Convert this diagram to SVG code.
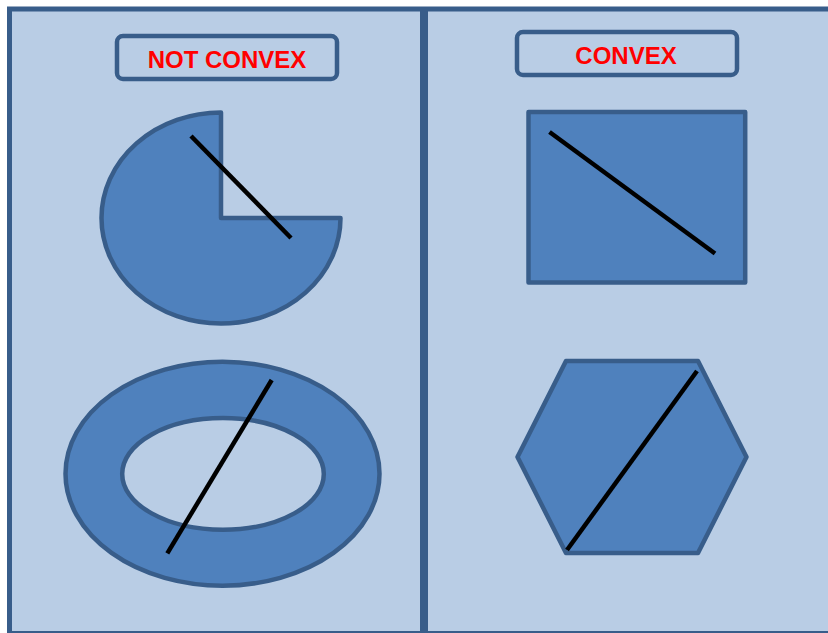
<svg xmlns="http://www.w3.org/2000/svg" width="828" height="633" viewBox="0 0 828 633">
  <style>
    .panel { fill: #b9cde5; stroke: #385d8a; stroke-width: 5; }
    .shape { fill: #4f81bd; stroke: #385d8a; stroke-width: 4.5; stroke-linejoin: round; }
    .label-box { fill: #b9cde5; stroke: #385d8a; stroke-width: 4.5; }
    .label { font-family: "Liberation Sans", Arial, sans-serif; font-weight: bold; font-size: 24px; fill: #ff0000; text-anchor: middle; }
    .chord { stroke: #000000; stroke-width: 4.5; stroke-linecap: butt; fill: none; }
  </style>
  <rect x="0" y="0" width="828" height="633" fill="#ffffff"/>

  <!-- two panels -->
  <g id="panels">
    <rect class="panel" x="9.5" y="9" width="830" height="624.5"/>
    <line x1="424" y1="9" x2="424" y2="633" stroke="#385d8a" stroke-width="8"/>
  </g>

  <!-- titles -->
  <g id="title-not-convex">
    <rect class="label-box" x="117" y="36" width="220" height="43" rx="6"/>
    <text class="label" x="227" y="68">NOT CONVEX</text>
  </g>
  <g id="title-convex">
    <rect class="label-box" x="517" y="32" width="220" height="43" rx="6"/>
    <text class="label" x="626" y="64">CONVEX</text>
  </g>

  <!-- non-convex shapes -->
  <g id="pie">
    <path class="shape" d="M221,218 L221,112.5 A119.5,105.5 0 1 0 340.5,218 Z"/>
  </g>
  <g id="ring">
    <path class="shape" fill-rule="evenodd" d="M65.5,473.7 A157,112 0 1 0 379.5,473.7 A157,112 0 1 0 65.5,473.7 Z M122.2,473.9 A100.8,55.8 0 1 0 323.8,473.9 A100.8,55.8 0 1 0 122.2,473.9 Z"/>
  </g>

  <!-- convex shapes -->
  <g id="rectangle">
    <rect class="shape" x="528.5" y="112" width="216.7" height="170.5" stroke-width="5" stroke-linejoin="miter"/>
  </g>
  <g id="hexagon">
    <polygon class="shape" points="566,361 698,361 746.5,457 698,553 566,553 517.5,457"/>
  </g>

  <!-- test segments between two points of each shape -->
  <g id="connectors">
    <line class="chord" x1="191" y1="136" x2="291" y2="238"/>
    <line class="chord" x1="271.7" y1="380" x2="167.3" y2="553.3"/>
    <line class="chord" x1="549.5" y1="132" x2="715" y2="253.5"/>
    <line class="chord" x1="697" y1="371" x2="567" y2="550"/>
  </g>
</svg>
